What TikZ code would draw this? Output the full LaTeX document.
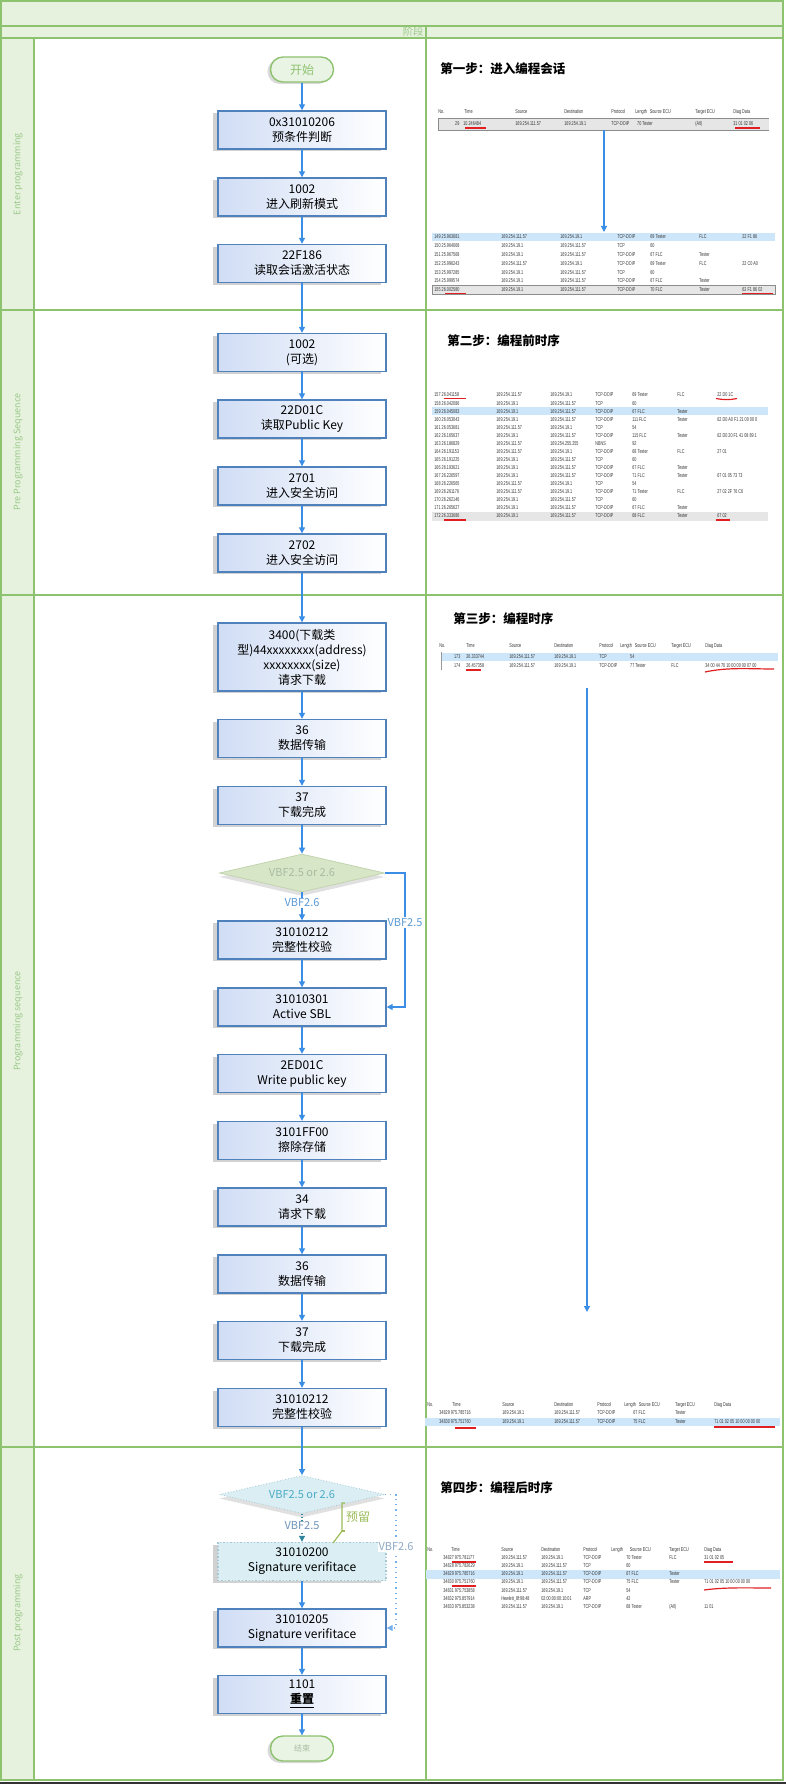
\documentclass[tikz,border=0pt]{standalone}
\usepackage{fontspec}
\setmainfont{Noto Sans CJK SC}
\newfontfamily\tabfont{Liberation Sans}[FakeStretch=0.67]
\usetikzlibrary{shapes.geometric,arrows.meta,shadows}
\definecolor{lgreen}{HTML}{8DC26F}
\definecolor{pgreen}{HTML}{E6F2DE}
\definecolor{lbl}{HTML}{9CC98A}
\definecolor{boxb}{HTML}{4F81BD}
\definecolor{boxf}{HTML}{D0DDF5}
\definecolor{arr}{HTML}{3A8EE6}
\definecolor{dgreen}{HTML}{D8E6C8}
\definecolor{dborder}{HTML}{C2D4AE}
\definecolor{dtext}{HTML}{A8BCA0}
\definecolor{cyanf}{HTML}{DAEEF3}
\definecolor{cyanb}{HTML}{A5C8D5}
\definecolor{tealc}{HTML}{4BACC6}
\definecolor{tealdk}{HTML}{31859B}
\definecolor{redl}{HTML}{E02020}
\definecolor{hlblue}{HTML}{CDE6FA}
\definecolor{hlgray}{HTML}{E6E6E6}
\definecolor{lblue}{HTML}{5B9BD5}
\definecolor{gblue}{HTML}{7094B8}
\definecolor{annog}{HTML}{9BBB59}
\definecolor{termf}{HTML}{EAF4E4}
\newcommand\cols[7]{\def\tx{#1}\def\wA{#2}\def\wB{#3}\def\wC{#4}\def\wD{#5}\def\wE{#6}\def\wF{#7}}
\newcommand\trow[9]{\node[trow] (#1) at (\tx,#2) {\makebox[\wA][l]{#3}\makebox[\wB][l]{#4}\makebox[\wC][l]{#5}\makebox[\wD][l]{#6}\makebox[\wE][l]{#7}\makebox[\wF][l]{#8}#9};}
\tikzset{
 frame/.style={draw=lgreen, line width=1pt},
 box/.style={draw=boxb, line width=0.7pt, left color=boxf, right color=white, minimum width=84pt, minimum height=19pt, inner sep=1pt, align=center, font=\fontsize{6}{7.5}\selectfont, drop shadow={shadow xshift=-2.5pt, shadow yshift=-1.2pt, opacity=0.3, fill=black!60}},
 term/.style={draw=lgreen, line width=0.7pt, fill=termf, rounded corners=6.2pt, minimum width=31.5pt, minimum height=12.5pt, inner sep=0pt, drop shadow={shadow xshift=-1.5pt, shadow yshift=-1pt, opacity=0.25, fill=black!60}},
 conn/.style={draw=arr, line width=0.6pt, -{Triangle[length=3pt,width=3pt]}},
 dconn/.style={draw=arr!70, line width=0.6pt, dotted, -{Triangle[length=3pt,width=3pt]}},
 lab/.style={fill=white, inner sep=0.5pt, font=\fontsize{5.5}{6}\selectfont},
 lanelab/.style={rotate=90, text=lbl, font=\fontsize{4.5}{5}\selectfont},
 steptitle/.style={anchor=west, inner sep=0pt, font=\fontsize{6.25}{7}\selectfont\bfseries},
 trow/.style={anchor=west, inner sep=0pt, text=black!80, font=\tabfont\fontsize{2.8}{3}\selectfont},
 redu/.style={draw=redl, line width=0.6pt},
 dia/.style={diamond, aspect=4.3, minimum width=82.5pt, minimum height=19pt, inner sep=0pt, font=\fontsize{5.5}{6}\selectfont},
}
\begin{document}
\begin{tikzpicture}[x=0.5pt,y=-0.5pt]
\useasboundingbox (0,0) rectangle (786,1786);
% frame and lanes
\fill[pgreen] (1,1) rectangle (783,38);
\fill[pgreen] (1,38) rectangle (34,1780);
\draw[frame] (1,26) -- (783,26);
\draw[frame] (1,38) -- (783,38);
\draw[frame] (1,310) -- (783,310);
\draw[frame] (1,595) -- (783,595);
\draw[frame] (1,1447) -- (783,1447);
\draw[frame] (34,38) -- (34,1780);
\draw[frame] (426,26) -- (426,1780);
\draw[frame] (1,1) rectangle (783,1780);
\draw[black!80, line width=1pt] (0,1782.5) -- (786,1782.5);
\node[anchor=east, text=lbl, inner sep=0pt, font=\fontsize{5.2}{6}\selectfont] (stage) at (424,32) {阶段};
\node[lanelab] (lane1) at (18,174) {Enter programming};
\node[lanelab] (lane2) at (18,452) {Pre Programming Sequence};
\node[lanelab] (lane3) at (18,1021) {Programming sequence};
\node[lanelab] (lane4) at (18,1613) {Post programming};
% flow nodes
\node[term, text=lgreen, font=\fontsize{6}{7}\selectfont] (start) at (302,69.5) {开始};
\node[box] (b1) at (302,130) {0x31010206\\预条件判断};
\node[box] (b2) at (302,197) {1002\\进入刷新模式};
\node[box] (b3) at (302,263.5) {22F186\\读取会话激活状态};
\node[box] (c1) at (302,352.5) {1002\\(可选)};
\node[box] (c2) at (302,419) {22D01C\\读取Public Key};
\node[box] (c3) at (302,486) {2701\\进入安全访问};
\node[box] (c4) at (302,553) {2702\\进入安全访问};
\node[box, minimum height=34pt] (d1) at (302,657) {3400(下载类\\型)44xxxxxxxx(address)\\xxxxxxxx(size)\\请求下载};
\node[box] (d2) at (302,738.5) {36\\数据传输};
\node[box] (d3) at (302,805.5) {37\\下载完成};
\node[dia, fill=dgreen, draw=dborder, text=dtext, drop shadow={shadow xshift=0pt, shadow yshift=-2pt, opacity=0.2, fill=black!60}] (dia1) at (302,873) {VBF2.5 or 2.6};
\node[box] (d4) at (302,940) {31010212\\完整性校验};
\node[box] (d5) at (302,1007) {31010301\\Active SBL};
\node[box] (d6) at (302,1073.5) {2ED01C\\Write public key};
\node[box] (d7) at (302,1140.5) {3101FF00\\擦除存储};
\node[box] (d8) at (302,1207) {34\\请求下载};
\node[box] (d9) at (302,1274) {36\\数据传输};
\node[box] (d10) at (302,1340.5) {37\\下载完成};
\node[box] (d11) at (302,1407.5) {31010212\\完整性校验};
\node[dia, fill=cyanf, draw=cyanb, densely dotted, text=tealc, drop shadow={shadow xshift=0pt, shadow yshift=-2pt, opacity=0.2, fill=black!60}] (dia2) at (302,1494.5) {VBF2.5 or 2.6};
\node[box, fill=cyanf, draw=cyanb, densely dotted, left color=cyanf, right color=cyanf] (e1) at (302,1561.5) {31010200\\Signature verifitace};
\node[box] (e2) at (302,1628) {31010205\\Signature verifitace};
\node[box] (e3) at (302,1694.5) {1101\\\textbf{\underline{重置}}};
\node[term, text=dtext, font=\fontsize{4}{5}\selectfont] (end) at (302,1748.5) {结束};
% connectors
\draw[conn] (start) -- (b1);
\draw[conn] (b1) -- (b2);
\draw[conn] (b2) -- (b3);
\draw[conn] (b3) -- (c1);
\draw[conn] (c1) -- (c2);
\draw[conn] (c2) -- (c3);
\draw[conn] (c3) -- (c4);
\draw[conn] (c4) -- (d1);
\draw[conn] (d1) -- (d2);
\draw[conn] (d2) -- (d3);
\draw[conn] (d3) -- (dia1);
\draw[conn] (dia1) -- node[lab, text=lblue, pos=0.38] (l26) {VBF2.6} (d4);
\coordinate (k1) at (405,873);
\coordinate (k2) at (405,1007);
\draw[conn] (dia1.east) -- (k1) -- node[lab, text=lblue, pos=0.37] (l25) {VBF2.5} (k2) -- (d5.east);
\draw[conn] (d4) -- (d5);
\draw[conn] (d5) -- (d6);
\draw[conn] (d6) -- (d7);
\draw[conn] (d7) -- (d8);
\draw[conn] (d8) -- (d9);
\draw[conn] (d9) -- (d10);
\draw[conn] (d10) -- (d11);
\draw[conn] (d11) -- (dia2);
\draw[draw=cyanb, line width=0.6pt, densely dotted, -{Triangle[length=3pt,width=3pt]}, tealdk] (dia2) -- node[lab, text=gblue, pos=0.42] (m25) {VBF2.5} (e1);
\coordinate (k3) at (396,1494.5);
\coordinate (k4) at (396,1628);
\draw[dconn] (dia2.east) -- (k3) -- node[lab, text=gblue!80, pos=0.39] (m26) {VBF2.6} (k4) -- (e2.east);
\draw[conn] (e1) -- (e2);
\draw[conn] (e2) -- (e3);
\draw[conn] (e3) -- (end);
% annotation
\coordinate (y1) at (345,1503);
\coordinate (y2) at (342,1503);
\coordinate (y3) at (342,1531);
\coordinate (y4) at (333,1543);
\draw[annog, line width=0.6pt] (y1) -- (y2) -- (y3) -- (y4);
\draw[annog, line width=0.6pt] (y3) -- ++(3,0);
\node[text=annog, inner sep=0pt, font=\fontsize{6}{7}\selectfont] (yl) at (358,1517) {预留};
% step titles
\node[steptitle] (s1) at (440,69) {第一步：进入编程会话};
\node[steptitle] (s2) at (447,341) {第二步：编程前时序};
\node[steptitle] (s3) at (453,619) {第三步：编程时序};
\node[steptitle] (s4) at (440,1488) {第四步：编程后时序};
% ---------- table 1a
\fill[hlgray] (438,118) rectangle (769,130);
\draw[black!45, line width=0.3pt] (438,118) -- (769,118) (438,118) -- (438,130) (438,130) -- (769,130);
\cols{438}{38.5pt}{24.5pt}{23.5pt}{12pt}{30pt}{19pt}
\trow{ta0}{112}{\makebox[13pt][l]{No.}Time}{Source}{Destination}{Protocol}{Length\hspace{1.5pt}Source ECU}{Target ECU}{Diag Data}
\trow{ta1}{124}{\makebox[10.5pt][r]{29}\hspace{2pt}10.246484}{169.254.111.57}{169.254.19.1}{TCP-DOIP}{\makebox[3pt][r]{70} Tester}{(All)}{31 01 02 06}
\draw[redu] (465,128) -- (486,128);
\draw[redu] (735,128) -- (760,128);
\coordinate (v1a) at (604,130);
\coordinate (v1b) at (604,232);
\draw[conn] (v1a) -- (v1b);
% ---------- table 1b
\fill[hlblue] (432,233) rectangle (775,241.5);
\fill[hlgray] (432,285.5) rectangle (775,294.5);
\draw[black!45, line width=0.3pt] (432,285.5) rectangle (775,294.5);
\cols{434}{33.5pt}{29.5pt}{28.5pt}{16.5pt}{24.5pt}{21.5pt}
\trow{tb1}{237}{149 25.963681}{169.254.111.57}{169.254.19.1}{TCP-DOIP}{69 Tester}{FLC}{22 F1 86}
\trow{tb2}{245.8}{150 25.964068}{169.254.19.1}{169.254.111.57}{TCP}{60}{}{}
\trow{tb3}{254.6}{151 25.967568}{169.254.19.1}{169.254.111.57}{TCP-DOIP}{67 FLC}{Tester}{}
\trow{tb4}{263.4}{152 25.996243}{169.254.111.57}{169.254.19.1}{TCP-DOIP}{69 Tester}{FLC}{22 C0 A0}
\trow{tb5}{272.2}{153 25.997285}{169.254.19.1}{169.254.111.57}{TCP}{60}{}{}
\trow{tb6}{281}{154 25.999574}{169.254.19.1}{169.254.111.57}{TCP-DOIP}{67 FLC}{Tester}{}
\trow{tb7}{290}{155 26.002580}{169.254.19.1}{169.254.111.57}{TCP-DOIP}{70 FLC}{Tester}{62 F1 86 02}
\draw[redu] (445,293.5) -- (466,293.5);
\draw[redu] (742,293.5) -- (773,293.5);
% ---------- table 2
\fill[hlblue] (432,407) rectangle (768,415.2);
\fill[hlgray] (432,512) rectangle (768,520.5);
\cols{434}{31pt}{27pt}{22.5pt}{18.5pt}{22.5pt}{20pt}
\trow{tc1}{395}{157 26.041158}{169.254.111.57}{169.254.19.1}{TCP-DOIP}{69 Tester}{FLC}{22 D0 1C}
\trow{tc2}{403.1}{158 26.042086}{169.254.19.1}{169.254.111.57}{TCP}{60}{}{}
\trow{tc3}{411.1}{159 26.045083}{169.254.19.1}{169.254.111.57}{TCP-DOIP}{67 FLC}{Tester}{}
\trow{tc4}{419.2}{160 26.053043}{169.254.19.1}{169.254.111.57}{TCP-DOIP}{111 FLC}{Tester}{62 D0 A0 F1 21 00 00 0}
\trow{tc5}{427.3}{161 26.053681}{169.254.111.57}{169.254.19.1}{TCP}{54}{}{}
\trow{tc6}{435.4}{162 26.165637}{169.254.19.1}{169.254.111.57}{TCP-DOIP}{115 FLC}{Tester}{62 D0 20 F1 41 08 89 1}
\trow{tc7}{443.4}{163 26.186829}{169.254.111.57}{169.254.255.255}{NBNS}{92}{}{}
\trow{tc8}{451.5}{164 26.191153}{169.254.111.57}{169.254.19.1}{TCP-DOIP}{68 Tester}{FLC}{27 01}
\trow{tc9}{459.6}{165 26.191225}{169.254.19.1}{169.254.111.57}{TCP}{60}{}{}
\trow{tc10}{467.6}{166 26.193621}{169.254.19.1}{169.254.111.57}{TCP-DOIP}{67 FLC}{Tester}{}
\trow{tc11}{475.7}{167 26.226597}{169.254.19.1}{169.254.111.57}{TCP-DOIP}{71 FLC}{Tester}{67 01 05 73 73}
\trow{tc12}{483.8}{168 26.226565}{169.254.111.57}{169.254.19.1}{TCP}{54}{}{}
\trow{tc13}{491.8}{169 26.261176}{169.254.111.57}{169.254.19.1}{TCP-DOIP}{71 Tester}{FLC}{27 02 2F 76 C6}
\trow{tc14}{499.9}{170 26.262146}{169.254.19.1}{169.254.111.57}{TCP}{60}{}{}
\trow{tc15}{508}{171 26.265627}{169.254.19.1}{169.254.111.57}{TCP-DOIP}{67 FLC}{Tester}{}
\trow{tc16}{516}{172 26.333686}{169.254.19.1}{169.254.111.57}{TCP-DOIP}{68 FLC}{Tester}{67 02}
\draw[redu] (444,398.5) -- (466,398.5);
\draw[redu] (716,398.5) .. controls (724,400) and (730,400) .. (737,398.5);
\draw[redu] (444,520) -- (466,520);
\draw[redu] (716,520) -- (730,520);
% ---------- table 3
\fill[hlblue] (441,652.5) rectangle (778,661);
\draw[black!40, line width=0.3pt] (441,652) -- (441,670);
\cols{439}{35pt}{22.5pt}{22.5pt}{13.5pt}{22.5pt}{17pt}
\trow{td0}{646}{\makebox[13.5pt][l]{No.}Time}{Source}{Destination}{Protocol}{\hspace{-3pt}Length\hspace{1.5pt}Source ECU}{Target ECU}{Diag Data}
\trow{td1}{657}{\makebox[10.5pt][r]{173}\hspace{3pt}26.333744}{169.254.111.57}{169.254.19.1}{TCP}{\makebox[4pt][r]{54}}{}{}
\trow{td2}{666}{\makebox[10.5pt][r]{174}\hspace{3pt}26.457358}{169.254.111.57}{169.254.19.1}{TCP-DOIP}{\makebox[4pt][r]{77} Tester}{FLC}{34 00 44 70 10 00 00 00 07 00}
\draw[redu] (466,670) -- (481,670);
\draw[redu] (705,672) .. controls (728,667) and (750,669) .. (774,669);
\coordinate (v3a) at (587,688);
\coordinate (v3b) at (587,1312);
\draw[conn] (v3a) -- (v3b);
% ---------- table 4a
\fill[hlblue] (425,1418) rectangle (780,1426);
\cols{427}{37.5pt}{26pt}{21.5pt}{18pt}{21pt}{19.5pt}
\trow{te0}{1405}{\makebox[12.5pt][l]{No.}Time}{Source}{Destination}{Protocol}{\hspace{-4.5pt}Length\hspace{1.5pt}Source ECU}{Target ECU}{Diag Data}
\trow{te1}{1413}{\hspace{6pt}34829 975.785716}{169.254.19.1}{169.254.111.57}{TCP-DOIP}{67 FLC}{Tester}{}
\trow{te2}{1422}{\hspace{6pt}34830 975.751760}{169.254.19.1}{169.254.111.57}{TCP-DOIP}{75 FLC}{Tester}{71 01 02 05 10 00 00 00 00}
\draw[redu] (455,1428) -- (476,1428);
\draw[redu] (714,1427) -- (775,1427);
% ---------- table 4b
\fill[hlblue] (426,1570) rectangle (780,1578.5);
\cols{427}{37pt}{20pt}{21pt}{21.5pt}{21.5pt}{17.5pt}
\trow{tf0}{1550}{\makebox[12pt][l]{No.}Time}{Source}{Destination}{Protocol}{\hspace{-7.5pt}Length\hspace{3.5pt}Source ECU}{Target ECU}{Diag Data}
\trow{tf1}{1558}{\hspace{8pt}34827 975.781177}{169.254.111.57}{169.254.19.1}{TCP-DOIP}{70 Tester}{FLC}{31 01 02 05}
\trow{tf2}{1566}{\hspace{8pt}34828 975.782629}{169.254.19.1}{169.254.111.57}{TCP}{60}{}{}
\trow{tf3}{1574}{\hspace{8pt}34829 975.785716}{169.254.19.1}{169.254.111.57}{TCP-DOIP}{67 FLC}{Tester}{}
\trow{tf4}{1582}{\hspace{8pt}34830 975.751760}{169.254.19.1}{169.254.111.57}{TCP-DOIP}{75 FLC}{Tester}{71 01 02 05 10 00 00 00 00}
\trow{tf5}{1591}{\hspace{8pt}34831 975.753858}{169.254.111.57}{169.254.19.1}{TCP}{54}{}{}
\trow{tf6}{1599}{\hspace{8pt}34832 975.857914}{Hewlett\_8f:98:48}{02:00:00:00:10:01}{ARP}{42}{}{}
\trow{tf7}{1607}{\hspace{8pt}34833 975.853238}{169.254.111.57}{169.254.19.1}{TCP-DOIP}{68 Tester}{(All)}{11 01}
\draw[redu] (452,1562) -- (476,1562);
\draw[redu] (704,1562) -- (733,1562);
\draw[redu] (452,1586) -- (476,1586);
\draw[redu] (704,1590) .. controls (725,1587) and (750,1588) .. (771,1588);
\end{tikzpicture}
\end{document}
